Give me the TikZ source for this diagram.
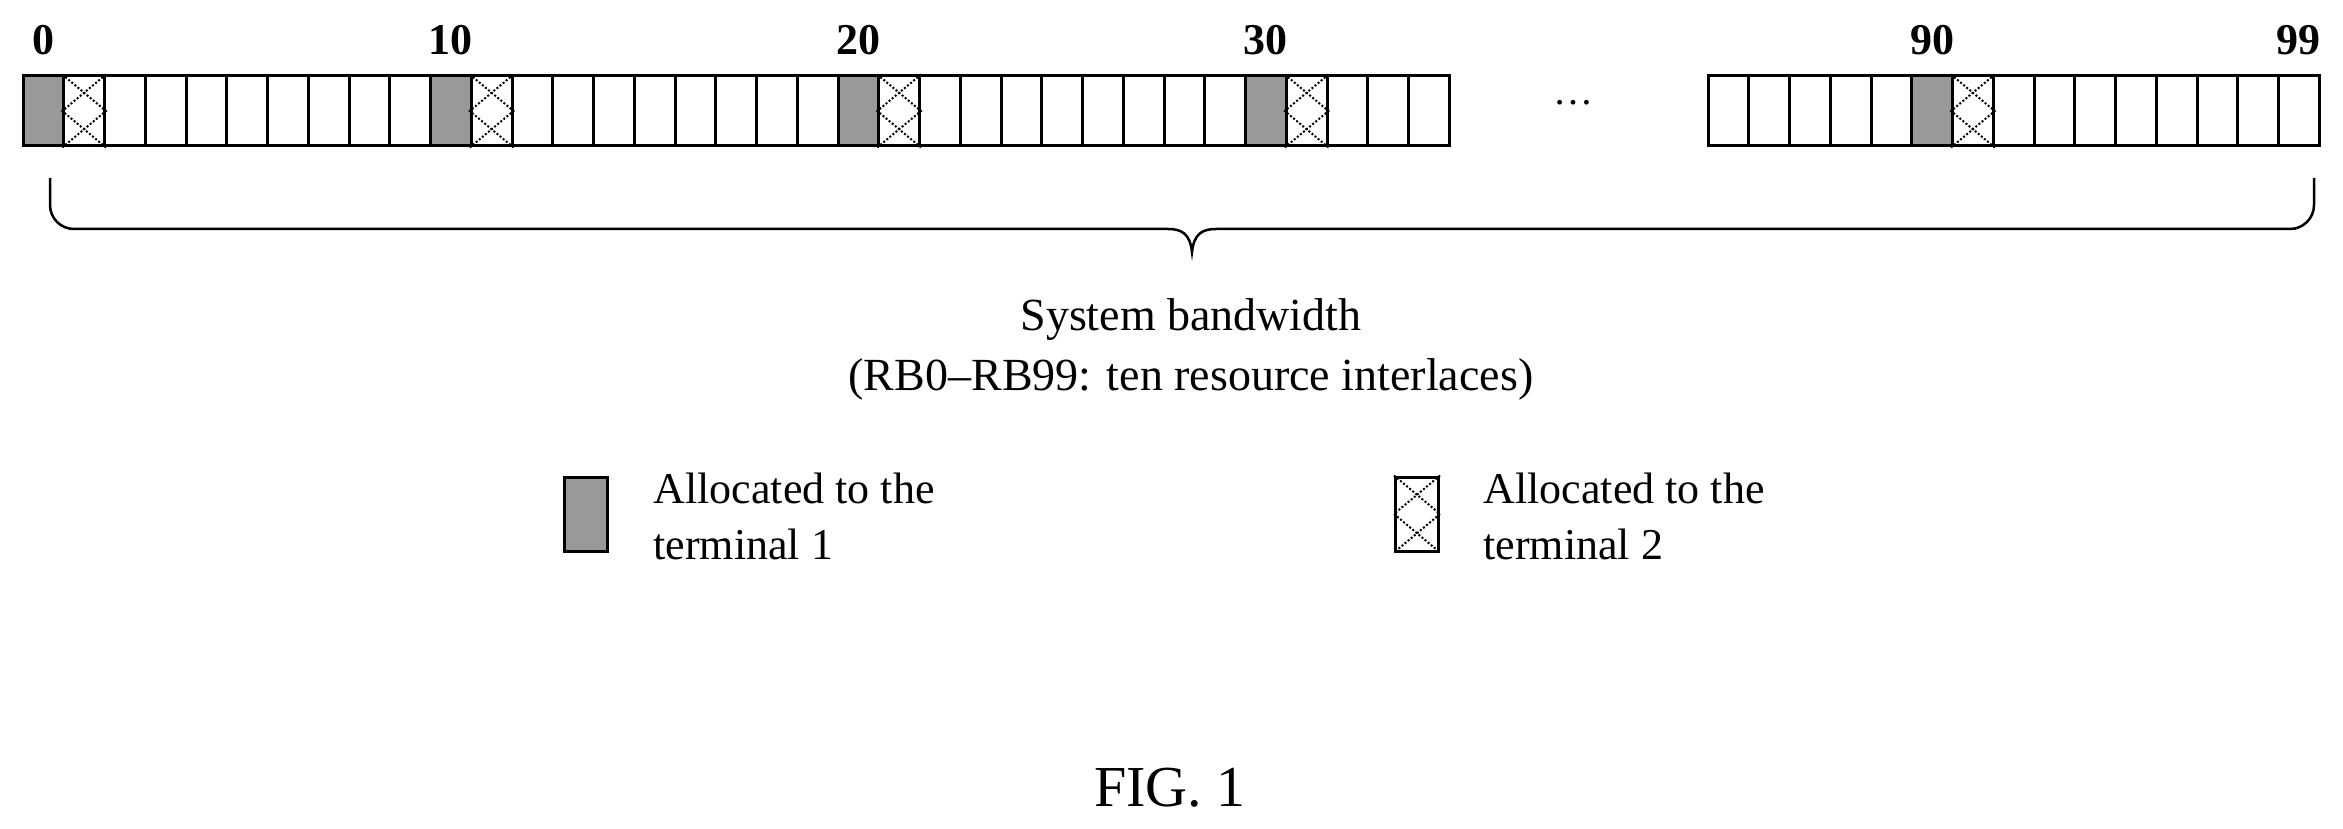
\documentclass[tikz,border=0pt]{standalone}
\usepackage{fontspec}
\setmainfont{Liberation Serif}
\begin{document}
\begin{tikzpicture}[x=1pt,y=-1pt,
  cell/.style={draw,line width=3pt,minimum width=40.75pt,minimum height=70pt,inner sep=0pt},
  t1/.style={cell,fill=black!40},
  lbl/.style={font=\fontsize{44}{50}\selectfont\bfseries},
  txt/.style={font=\fontsize{44}{56}\selectfont,align=left},
  hatch/.style={line width=2pt,dotted}]
\useasboundingbox (0,0) rectangle (2343,829);
\foreach \i in {0,...,34}{
  \node[cell] (c\i) at ({23+40.75*\i+20.375},111) {};
}
\foreach \i in {85,...,99}{
  \node[cell] (c\i) at ({1708+40.75*(\i-85)+20.375},111) {};
}
\foreach \i in {0,10,20,30,90}{
  \pgfmathtruncatemacro{\j}{\i+1}
  \node[t1] at (c\i) {};
  \draw[hatch] (c\j.north west) -- (c\j.east) -- (c\j.south west);
  \draw[hatch] (c\j.north east) -- (c\j.west) -- (c\j.south east);
  \node[lbl] at ([yshift=34pt]c\i.north) {\i};
}
\node[lbl] at ([yshift=34pt]c99.north) {99};
\node[font=\fontsize{40}{44}\selectfont] (dots) at (1573,103) {\dots};
\coordinate (bl) at (50,178);
\coordinate (br) at (2314,178);
\coordinate (tip) at (1192,252);
\draw[line width=2.5pt] (bl) -- (50,205) arc[start angle=180,end angle=90,radius=24] -- (1168,229)
  .. controls (1182,229) and (1190,234) .. (tip)
  .. controls (1194,234) and (1202,229) .. (1216,229) -- (2290,229)
  arc[start angle=90,end angle=0,radius=24] -- (br);
\node[font=\fontsize{46}{60}\selectfont,align=center] (sb) at (1191,349) {System bandwidth\\(RB0--RB99: ten resource interlaces)};
\node[draw,line width=3pt,fill=black!40,minimum width=43pt,minimum height=74pt,inner sep=0pt] (l1) at (585.5,514) {};
\node[txt,anchor=west] (lt1) at (650,516) {Allocated to the\\terminal 1};
\node[draw,line width=3pt,minimum width=43pt,minimum height=74pt,inner sep=0pt] (l2) at (1417,514) {};
\draw[hatch] (l2.north west) -- (l2.east) -- (l2.south west);
\draw[hatch] (l2.north east) -- (l2.west) -- (l2.south east);
\node[txt,anchor=west] (lt2) at (1480,516) {Allocated to the\\terminal 2};
\node[font=\fontsize{58}{60}\selectfont] (fig) at (1170,788) {FIG. 1};
\end{tikzpicture}
\end{document}
